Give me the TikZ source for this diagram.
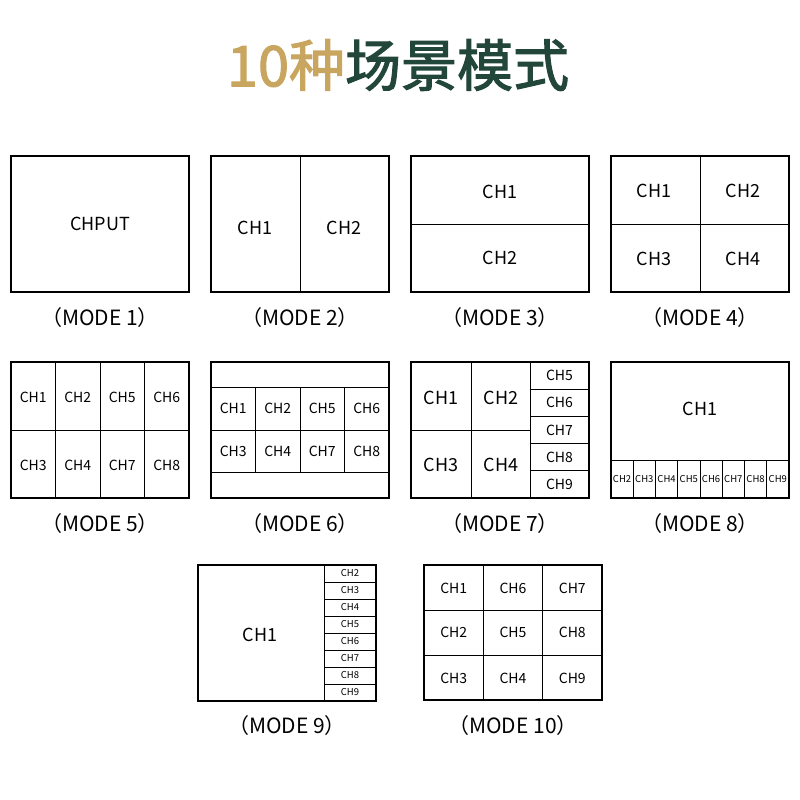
\documentclass[tikz,border=0pt]{standalone}
\usepackage{fontspec}
\setmainfont{Noto Sans CJK SC}
\newfontfamily\cjkb{Noto Sans CJK SC}[FakeBold=2]
\definecolor{gold}{HTML}{C9A660}
\definecolor{dgreen}{HTML}{22463A}
\begin{document}
\begin{tikzpicture}[x=1pt,y=-1pt,
  frame/.style={draw=black,line width=1.6pt},
  ln/.style={draw=black,line width=0.8pt},
  lbl/.style={font=\fontsize{21}{22}\selectfont},
  t/.style={font=\fontsize{#1}{#1}\selectfont,inner sep=0pt}]
\useasboundingbox (0,0) rectangle (800,800);
\node[inner sep=0pt] (title) at (398,65) {\cjkb\fontsize{56}{58}\selectfont\textcolor{gold}{10种}\textcolor{dgreen}{场景模式}};
% Mode 1
\draw[frame] (11,156) rectangle (189,292);
\node[t=18] (m1c) at (100,224) {CHPUT};
\node[lbl] (m1) at (100,318) {（MODE 1）};
% Mode 2
\draw[ln] (300,156)--(300,292);
\draw[frame] (211,156) rectangle (389,292);
\node[t=18] at (255,228) {CH1};
\node[t=18] at (344,228) {CH2};
\node[lbl] at (300,318) {（MODE 2）};
% Mode 3
\draw[ln] (411,224)--(589,224);
\draw[frame] (411,156) rectangle (589,292);
\node[t=18] at (500,192) {CH1};
\node[t=18] at (500,258) {CH2};
\node[lbl] at (500,318) {（MODE 3）};
% Mode 4
\draw[ln] (611,224)--(789,224) (700,156)--(700,292);
\draw[frame] (611,156) rectangle (789,292);
\node[t=18] at (654,191) {CH1};
\node[t=18] at (743,191) {CH2};
\node[t=18] at (654,259) {CH3};
\node[t=18] at (743,259) {CH4};
\node[lbl] at (700,318) {（MODE 4）};
% Mode 5
\draw[ln] (11,430)--(189,430);
\foreach \i in {1,2,3} \draw[ln] (11+44.5*\i,362)--(11+44.5*\i,498);
\draw[frame] (11,362) rectangle (189,498);
\foreach \n [count=\i from 0] in {1,2,5,6} \node[t=14] at (33.25+44.5*\i,397) {CH\n};
\foreach \n [count=\i from 0] in {3,4,7,8} \node[t=14] at (33.25+44.5*\i,465) {CH\n};
\node[lbl] at (100,524) {（MODE 5）};
% Mode 6
\draw[ln] (211,387)--(389,387) (211,430)--(389,430) (211,472)--(389,472);
\foreach \i in {1,2,3} \draw[ln] (211+44.5*\i,387)--(211+44.5*\i,472);
\draw[frame] (211,362) rectangle (389,498);
\foreach \n [count=\i from 0] in {1,2,5,6} \node[t=14] at (233.25+44.5*\i,408) {CH\n};
\foreach \n [count=\i from 0] in {3,4,7,8} \node[t=14] at (233.25+44.5*\i,451) {CH\n};
\node[lbl] at (300,524) {（MODE 6）};
% Mode 7
\draw[ln] (411,430)--(530,430) (471,362)--(471,498) (530,362)--(530,498);
\foreach \i in {1,2,3,4} \draw[ln] (530,362+27.2*\i)--(589,362+27.2*\i);
\draw[frame] (411,362) rectangle (589,498);
\node[t=18] at (441,398) {CH1};
\node[t=18] at (501,398) {CH2};
\node[t=18] at (441,465) {CH3};
\node[t=18] at (501,465) {CH4};
\foreach \n [count=\i from 0] in {5,...,9} \node[t=14] at (559.5,375.6+27.2*\i) {CH\n};
\node[lbl] at (500,524) {（MODE 7）};
% Mode 8
\draw[ln] (611,460)--(789,460);
\foreach \i in {1,...,7} \draw[ln] (611+22.25*\i,460)--(611+22.25*\i,498);
\draw[frame] (611,362) rectangle (789,498);
\node[t=18] at (700,409) {CH1};
\foreach \n [count=\i from 0] in {2,...,9} \node[t=9.5] at (622.1+22.25*\i,479) {CH\n};
\node[lbl] at (700,524) {（MODE 8）};
% Mode 9
\draw[ln] (324,565)--(324,701);
\foreach \i in {1,...,7} \draw[ln] (324,565+17*\i)--(376,565+17*\i);
\draw[frame] (198,565) rectangle (376,701);
\node[t=18] at (260,635) {CH1};
\foreach \n [count=\i from 0] in {2,...,9} \node[t=9.5] at (350,573.5+17*\i) {CH\n};
\node[lbl] at (287,726) {（MODE 9）};
% Mode 10
\foreach \i in {1,2} \draw[ln] (424,565+45.3*\i)--(602,565+45.3*\i) (424+59.3*\i,565)--(424+59.3*\i,700);
\draw[frame] (424,565) rectangle (602,700);
\foreach \n [count=\i from 0] in {1,6,7} \node[t=14] at (453.7+59.3*\i,588) {CH\n};
\foreach \n [count=\i from 0] in {2,5,8} \node[t=14] at (453.7+59.3*\i,632) {CH\n};
\foreach \n [count=\i from 0] in {3,4,9} \node[t=14] at (453.7+59.3*\i,678) {CH\n};
\node[lbl] at (513,726) {（MODE 10）};
\end{tikzpicture}
\end{document}
